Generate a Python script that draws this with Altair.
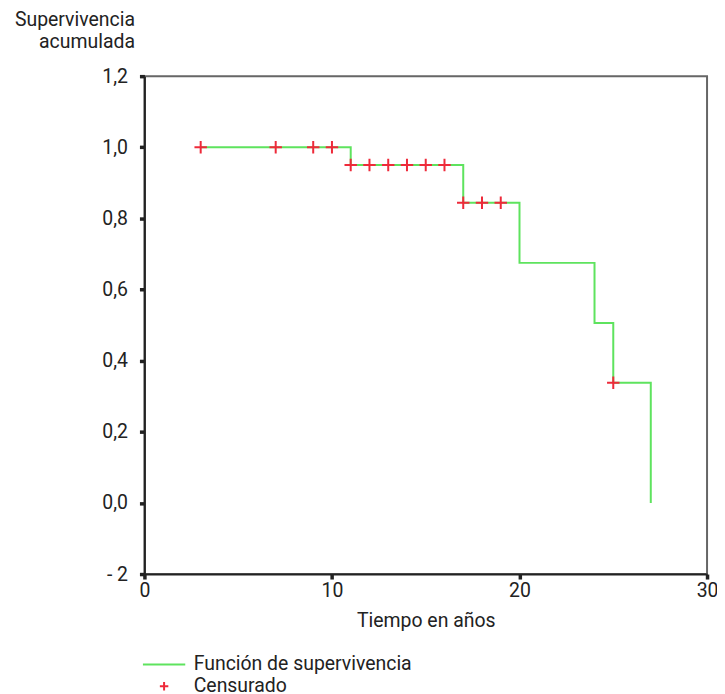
import altair as alt
import pandas as pd

# Survival step function (Kaplan-Meier)
step_x = [3, 11, 17, 20, 24, 25, 27]
step_y = [1.0, 0.95, 0.844, 0.675, 0.506, 0.338, 0.0]

# Censored observations
cens_x = [3, 7, 9, 10, 11, 12, 13, 14, 15, 16, 17, 18, 19, 25]
cens_y = [1.0, 1.0, 1.0, 1.0, 0.95, 0.95, 0.95, 0.95, 0.95, 0.95, 0.844, 0.844, 0.844, 0.338]

series = ["Función de supervivencia", "Censurado"]
colors = ["#5ee35e", "#ee2a3a"]
shapes = ["M-2.5,0L2.5,0", "M-0.5,0L0.5,0M0,-0.5L0,0.5"]

y_ticks = [-0.2, 0.0, 0.2, 0.4, 0.6, 0.8, 1.0, 1.2]
x_ticks = [0, 10, 20, 30]

line_df = pd.DataFrame({"x": step_x, "y": step_y, "serie": series[0]})
cens_df = pd.DataFrame({"x": cens_x, "y": cens_y, "serie": series[1]})

FONT = "Roboto"
FS = 19.5
TXT = "#222"

axis_style = dict(labelFont=FONT, labelFontSize=FS, labelColor=TXT,
                  titleFont=FONT, titleFontSize=FS, titleColor=TXT,
                  titleFontWeight="normal", grid=False, tickSize=5, tickWidth=3.5,
                  domainWidth=2, domainColor="#222", tickColor="#222")

xenc = alt.X("x:Q", scale=alt.Scale(domain=[0, 30], nice=False, zero=False),
             axis=alt.Axis(values=x_ticks, title="Tiempo en años",
                           labelPadding=3, titlePadding=11, labelFlush=False,
                           **axis_style))
yenc = alt.Y("y:Q", scale=alt.Scale(domain=[-0.2, 1.2], nice=False, zero=False),
             axis=alt.Axis(values=y_ticks, labelPadding=12,
                           labelExpr="datum.value < -0.1 ? '- 2' : replace(format(datum.value, '.1f'), '.', ',')",
                           title=["Supervivencia", "acumulada"], titleAngle=0,
                           titleAlign="right", titleBaseline="top", titleX=-10, titleY=-66,
                           titleLineHeight=22, **axis_style))

leg = alt.Legend(orient="none", legendX=10, legendY=581, title=None,
                 symbolSize=289, symbolStrokeWidth=2,
                 symbolFillColor="transparent", labelLimit=400,
                 labelOffset=20, rowPadding=1, padding=0,
                 labelFontSize=FS, labelFont=FONT, labelColor=TXT)

color = alt.Color("serie:N", scale=alt.Scale(domain=series, range=colors), legend=leg)
shape = alt.Shape("serie:N", scale=alt.Scale(domain=series, range=shapes), legend=leg)

line = alt.Chart(line_df).mark_line(interpolate="step-after", strokeWidth=2).encode(
    x=xenc, y=yenc, color=color)

pts = alt.Chart(cens_df).mark_point(size=625, strokeWidth=2, filled=False, opacity=1).encode(
    x="x:Q", y="y:Q", color=color, shape=shape)

chart = alt.layer(line, pts).properties(
    width=565, height=500,
    autosize=alt.AutoSizeParams(type="none"),
    padding={"left": 137, "top": 67, "right": 10, "bottom": 119},
    background="white",
).configure_view(stroke="#666", strokeWidth=2)

chart.save("out.html", embed_options={"renderer": "svg", "actions": False})
